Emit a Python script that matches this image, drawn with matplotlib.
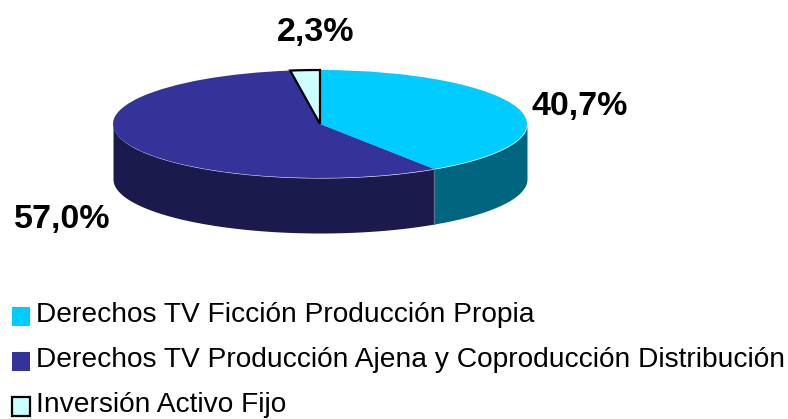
import matplotlib
matplotlib.use('Agg')
import matplotlib.pyplot as plt
import numpy as np

plt.rcParams['font.family'] = ['Liberation Sans', 'DejaVu Sans']

# datos del grafico
categorias = ['Derechos TV Ficción Producción Propia',
              'Derechos TV Producción Ajena y Coproducción Distribución',
              'Inversión Activo Fijo']
valores = [40.7, 57.0, 2.3]
etiquetas = ['40,7%', '57,0%', '2,3%']
colores = ['#00ccff', '#333399', '#ccffff']
colores_lado = ['#006680', '#1a1a4d', '#668080']

W, H = 788, 419
fig = plt.figure(figsize=(W / 100, H / 100), dpi=100)


def caja(x0, y0, x1, y1):
    # caja en pixeles de la imagen (y hacia abajo)
    return [x0 / W, 1 - y1 / H, (x1 - x0) / W, (y1 - y0) / H]


ax = fig.add_axes(caja(113, 70, 527, 178))
wedges, _ = ax.pie(valores, colors=colores, startangle=90, counterclock=False,
                   radius=1, wedgeprops={'linewidth': 0})
ax.set_aspect('auto')
ax.set_xlim(-1, 1)
ax.set_ylim(-1, 1)
for w in wedges:
    w.set_clip_on(False)
    w.set_zorder(3)
wedges[2].set_edgecolor('black')
wedges[2].set_linewidth(1.6)
wedges[2].set_zorder(4)

# lateral del "cilindro": solo la mitad frontal se ve
grosor = 55 / 54
ini = 90.0
for val, col in zip(valores, colores_lado):
    fin = ini - val * 3.6
    a, b = max(fin, -180), min(ini, 0)
    if a < b:
        t = np.radians(np.linspace(a, b, 120))
        ax.fill_between(np.cos(t), np.sin(t), np.sin(t) - grosor, color=col,
                        linewidth=0, clip_on=False, zorder=2)
    ini = fin
# separacion entre los dos lados
t0 = np.radians(90 - valores[0] * 3.6)
ax.plot([np.cos(t0)] * 2, [np.sin(t0), np.sin(t0) - grosor], color='#5a6f8a',
        lw=1, clip_on=False, zorder=2.5)

# porcentajes
pos = [(580, 103), (62, 216), (316, 29)]
for et, (x, y) in zip(etiquetas, pos):
    fig.text(x / W, 1 - (y + 3) / H, et, fontsize=24.5, fontweight='bold',
             ha='center', va='center')

# leyenda
leg = fig.legend(wedges, categorias, loc='upper left', bbox_to_anchor=(12 / W, 1 - 302 / H),
                 frameon=False, fontsize=20.25, handlelength=0.65, handleheight=0.65,
                 handletextpad=0.2, labelspacing=0.68, borderpad=0, borderaxespad=0)
# los cuadritos van un poco mas abajo que el texto
for p in leg.get_patches():
    p.set_y(p.get_y() - 2.9)

fig.savefig('out.png', dpi=100)
